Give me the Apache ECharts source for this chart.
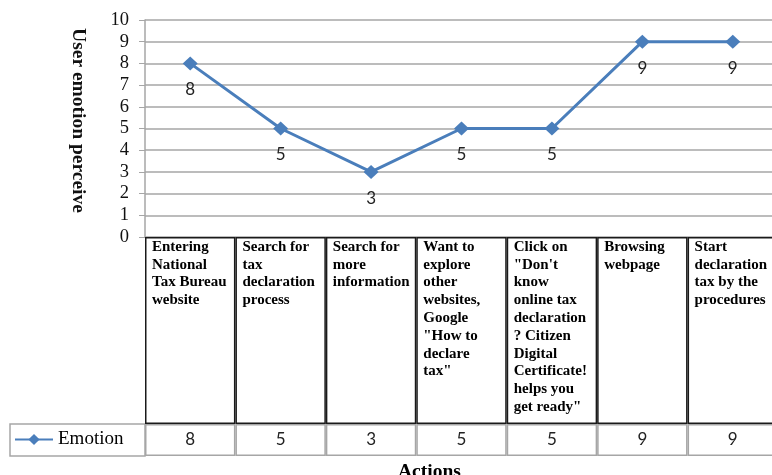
<!DOCTYPE html>
<html>
<head>
<meta charset="utf-8">
<script src="https://cdn.jsdelivr.net/npm/echarts@6/dist/echarts.min.js"></script>
<style>html,body{margin:0;padding:0;background:#fff}#c{width:772px;height:475px}</style>
</head>
<body>
<div id="c"></div>
<script>
var categories = [
  'Entering\nNational\nTax Bureau\nwebsite',
  'Search for\ntax\ndeclaration\nprocess',
  'Search for\nmore\ninformation',
  'Want to\nexplore\nother\nwebsites,\nGoogle\n"How to\ndeclare\ntax"',
  'Click on\n"Don\'t\nknow\nonline tax\ndeclaration\n? Citizen\nDigital\nCertificate!\nhelps you\nget ready"',
  'Browsing\nwebpage',
  'Start\ndeclaration\ntax by the\nprocedures'
];
var emotion = [8, 5, 3, 5, 5, 9, 9];
var seriesName = 'Emotion';
var yTicks = { min: 0, max: 10, interval: 1 };
var yTitle = 'User emotion perceive';
var xTitle = 'Actions';

var serif = 'Liberation Serif';
var sans = 'Lato';
var blue = '#4A7EBB';
var gray = '#a6a6a6';

var chart = echarts.init(document.getElementById('c'), null, { renderer: 'canvas' });
var plotLeft = 145, plotWidth = 633;

chart.setOption({
  animation: false,
  title: {
    text: xTitle, left: 393, top: 457,
    textStyle: { fontFamily: serif, fontWeight: 'bold', fontSize: 19.5, color: '#000' }
  },
  legend: {
    data: [seriesName], left: 14, top: 430, padding: 0, itemWidth: 38, itemHeight: 14, itemGap: 5,
    textStyle: { fontFamily: serif, fontSize: 19, color: '#000' }
  },
  graphic: [{
    type: 'rect', shape: { x: 10, y: 424, width: 135, height: 32 },
    style: { fill: 'none', stroke: gray, lineWidth: 1.5 }, z: 1
  }],
  grid: [
    { left: plotLeft, top: 20, width: plotWidth, height: 217, outerBoundsMode: 'none' },
    { left: plotLeft, top: 237, width: plotWidth, height: 187, outerBoundsMode: 'none' },
    { left: plotLeft, top: 424, width: plotWidth, height: 32, outerBoundsMode: 'none' }
  ],
  xAxis: [
    { type: 'category', gridIndex: 0, data: categories, boundaryGap: true,
      axisLine: { show: false }, axisTick: { show: false }, axisLabel: { show: false } },
    { type: 'category', gridIndex: 1, data: categories, show: false },
    { type: 'category', gridIndex: 2, data: categories, show: false }
  ],
  yAxis: [
    { type: 'value', gridIndex: 0, min: yTicks.min, max: yTicks.max, interval: yTicks.interval,
      name: yTitle, nameLocation: 'middle', nameRotate: -90, nameGap: 57,
      nameTextStyle: { fontFamily: serif, fontWeight: 'bold', fontSize: 19.5, color: '#111', padding: [0, 16, 0, 0] },
      axisLine: { show: true, lineStyle: { color: gray, width: 1.5 } },
      axisTick: { show: true, length: 6, lineStyle: { color: gray } },
      axisLabel: { margin: 16, fontFamily: serif, fontSize: 18.5, color: '#111' },
      splitLine: { show: true, lineStyle: { color: gray, width: 1.5 } } },
    { type: 'value', gridIndex: 1, min: 0, max: 1, show: false },
    { type: 'value', gridIndex: 2, min: 0, max: 1, show: false }
  ],
  series: [
    {
      name: seriesName, type: 'line', xAxisIndex: 0, yAxisIndex: 0,
      data: emotion, symbol: 'diamond', symbolSize: [15, 14],
      lineStyle: { color: blue, width: 3 }, itemStyle: { color: blue },
      label: { show: true, position: 'bottom', distance: 11, fontFamily: sans, fontSize: 17, color: '#222' },
      z: 5
    },
    {
      type: 'bar', xAxisIndex: 1, yAxisIndex: 1, clip: false, z: 4,
      barWidth: '100%', barCategoryGap: 0,
      data: categories.map(function () { return 1; }),
      itemStyle: { color: 'rgba(0,0,0,0)', borderColor: '#1a1a1a', borderWidth: 1.5 },
      label: {
        show: true, position: 'insideTopLeft', distance: 0, offset: [7, 1],
        formatter: function (p) { return p.name; },
        fontFamily: serif, fontWeight: 'bold', fontSize: 15, lineHeight: 17.8, color: '#000'
      },
      emphasis: { disabled: true }, silent: true
    },
    {
      type: 'bar', xAxisIndex: 2, yAxisIndex: 2, clip: false, z: 3,
      barWidth: '100%', barCategoryGap: 0,
      data: emotion.map(function (v) { return { value: 1, label: { formatter: String(v) } }; }),
      itemStyle: { color: 'rgba(0,0,0,0)', borderColor: gray, borderWidth: 1.5 },
      label: { show: true, position: 'inside', fontFamily: sans, fontSize: 17, color: '#222' },
      emphasis: { disabled: true }, silent: true
    }
  ]
});
</script>
</body>
</html>
